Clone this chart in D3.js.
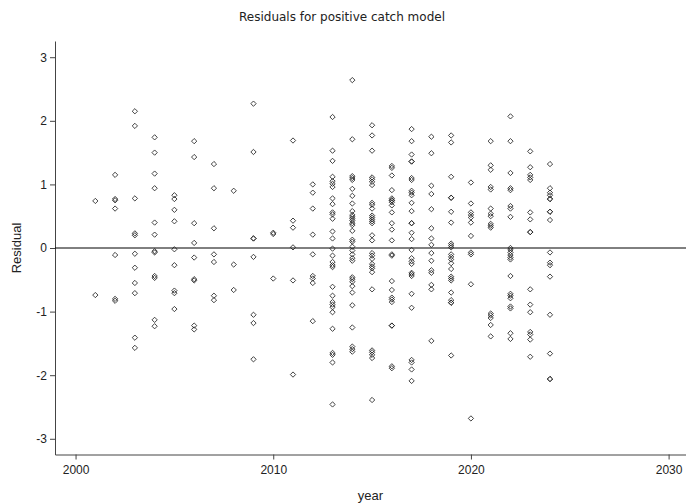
<!DOCTYPE html>
<html>
<head>
<meta charset="utf-8">
<script src="https://cdn.jsdelivr.net/npm/d3@7/dist/d3.min.js"></script>
<style>
  html, body { margin: 0; padding: 0; background: #fff; }
  svg text { font-family: "Liberation Sans", Arial, sans-serif; fill: #222; }
</style>
</head>
<body>
<svg id="chart" width="686" height="504"></svg>
<script>
// Survey years with at least one positive catch
const years = [2001, 2002, 2003, 2004, 2005, 2006, 2007, 2008, 2009, 2010, 2011, 2012,
               2013, 2014, 2015, 2016, 2017, 2018, 2019, 2020, 2021, 2022, 2023, 2024];

// Standardised residuals of the positive-catch model, one list per year (same order as years)
const residualsByYear = [
  [0.74, -0.74],
  [1.15, 0.77, 0.75, 0.62, -0.11, -0.8, -0.83],
  [2.15, 1.92, 0.78, 0.23, 0.2, -0.09, -0.31, -0.55, -0.71, -1.41, -1.57],
  [1.74, 1.5, 1.17, 0.94, 0.4, 0.21, -0.05, -0.07, -0.44, -0.47, -1.13, -1.23],
  [0.83, 0.77, 0.6, 0.42, -0.02, -0.27, -0.67, -0.71, -0.96],
  [1.68, 1.43, 0.39, 0.08, -0.15, -0.49, -0.51, -1.22, -1.28],
  [1.32, 0.94, 0.31, -0.1, -0.22, -0.75, -0.82],
  [0.9, -0.26, -0.66],
  [2.27, 1.51, 0.15, 0.15, -0.14, -1.05, -1.18, -1.75],
  [0.24, 0.22, -0.48],
  [1.69, 0.43, 0.32, 0.01, -0.51, -1.99],
  [1.0, 0.87, 0.62, 0.21, -0.1, -0.44, -0.48, -0.55, -1.15],
  [2.06, 1.53, 1.37, 1.12, 1.05, 1.01, 0.96, 0.78, 0.69, 0.56, 0.53, 0.46, 0.26, 0.15,
   -0.01, -0.12, -0.22, -0.27, -0.3, -0.61, -0.75, -0.85, -0.89, -0.93, -1.01, -1.27,
   -1.65, -1.68, -1.8, -2.46],
  [2.64, 1.71, 1.13, 1.1, 1.07, 0.93, 0.82, 0.7, 0.58, 0.52, 0.49, 0.46, 0.43, 0.39, 0.36,
   0.27, 0.13, 0.1, 0.02, -0.04, -0.1, -0.16, -0.2, -0.46, -0.49, -0.53, -0.6, -0.7, -0.9,
   -1.25, -1.55, -1.59, -1.63],
  [1.93, 1.77, 1.53, 1.11, 1.08, 1.04, 0.99, 0.71, 0.68, 0.62, 0.51, 0.48, 0.45, 0.42, 0.39,
   0.2, 0.12, -0.08, -0.12, -0.17, -0.25, -0.29, -0.32, -0.38, -0.65, -1.61, -1.64, -1.68,
   -1.73, -2.39],
  [1.29, 1.26, 1.14, 0.91, 0.78, 0.75, 0.75, 0.72, 0.67, 0.56, 0.39, 0.29, 0.12, -0.1, -0.12,
   -0.52, -0.66, -0.78, -0.81, -0.85, -1.22, -1.22, -1.86, -1.89],
  [1.87, 1.68, 1.47, 1.36, 1.36, 1.1, 1.07, 0.9, 0.87, 0.83, 0.71, 0.58, 0.39, 0.39, 0.24,
   0.14, -0.03, -0.16, -0.21, -0.25, -0.39, -0.41, -0.44, -0.72, -0.94, -1.76, -1.8, -1.91,
   -2.09],
  [1.75, 1.49, 0.98, 0.85, 0.61, 0.31, 0.15, 0.05, -0.08, -0.2, -0.35, -0.39, -0.58, -0.65,
   -1.46],
  [1.77, 1.66, 1.12, 0.79, 0.79, 0.57, 0.4, 0.07, 0.04, 0.01, -0.1, -0.14, -0.18, -0.24,
   -0.33, -0.45, -0.48, -0.51, -0.7, -0.82, -0.86, -0.86, -1.69],
  [1.03, 0.7, 0.56, 0.52, 0.48, 0.4, 0.19, -0.07, -0.1, -0.57, -2.68],
  [1.68, 1.3, 1.23, 0.96, 0.92, 0.62, 0.54, 0.5, 0.38, 0.35, 0.32, -1.03, -1.06, -1.1,
   -1.21, -1.39],
  [2.07, 1.68, 1.18, 0.94, 0.91, 0.66, 0.62, 0.49, 0.0, -0.03, -0.07, -0.11, -0.15, -0.18,
   -0.44, -0.72, -0.75, -0.79, -0.92, -0.95, -1.34, -1.43],
  [1.52, 1.27, 1.15, 1.11, 1.07, 0.56, 0.45, 0.25, 0.25, -0.65, -0.89, -1.01, -1.32, -1.36,
   -1.44, -1.71],
  [1.32, 0.94, 0.87, 0.83, 0.77, 0.77, 0.57, 0.57, 0.44, -0.07, -0.23, -0.27, -0.45, -1.05,
   -1.66, -2.06, -2.06]
];

const xTicks = [2000, 2010, 2020, 2030];
const yTicks = [-3, -2, -1, 0, 1, 2, 3];

const chartTitle = "Residuals for positive catch model";
const xTitle = "year";
const yTitle = "Residual";

// ---- layout ----
const plot = { left: 55, right: 686, top: 41, bottom: 454.5 };

const x = d3.scaleLinear().domain([1998.96, 2030.88]).range([plot.left, plot.right]);
const y = d3.scaleLinear().domain([-3.247, 3.255]).range([plot.bottom, plot.top]);

const svg = d3.select("#chart");

// flatten to (year, residual) pairs
const points = years.flatMap((yr, i) => residualsByYear[i].map(v => ({ year: yr, value: v })));

// plain hyphen for negative tick labels
const intLabel = d => String(d);

// axes
const xAxis = d3.axisBottom(x).tickValues(xTicks).tickFormat(intLabel)
  .tickSize(5).tickSizeOuter(0).tickPadding(6);
const yAxis = d3.axisLeft(y).tickValues(yTicks).tickFormat(intLabel)
  .tickSize(5).tickSizeOuter(0).tickPadding(3);

const gx = svg.append("g").attr("transform", `translate(0,${plot.bottom})`).call(xAxis);
const gy = svg.append("g").attr("transform", `translate(${plot.left},0)`).call(yAxis);

[gx, gy].forEach(g => {
  g.select(".domain").attr("stroke", "#444").attr("stroke-width", 1);
  g.selectAll(".tick line").attr("stroke", "#444");
  g.selectAll(".tick text").attr("font-size", 12).attr("fill", "#222")
    .style("font-family", "'Liberation Sans', Arial, sans-serif");
});

// reference line at zero
svg.append("line")
  .attr("x1", plot.left).attr("x2", plot.right)
  .attr("y1", y(0)).attr("y2", y(0))
  .attr("stroke", "#000").attr("stroke-width", 1);

// hollow diamond markers
const diamond = d3.symbol(d3.symbolSquare, 14)();
svg.append("g")
  .selectAll("path")
  .data(points)
  .join("path")
  .attr("d", diamond)
  .attr("transform", d => `translate(${x(d.year)},${y(d.value)}) rotate(45)`)
  .attr("fill", "none")
  .attr("stroke", "#222")
  .attr("stroke-width", 0.8);

// titles
svg.append("text")
  .attr("x", 342).attr("y", 21)
  .attr("text-anchor", "middle")
  .attr("font-size", 12)
  .style("font-family", "'DejaVu Sans', sans-serif")
  .text(chartTitle);

svg.append("text")
  .attr("x", (plot.left + plot.right) / 2).attr("y", 500)
  .attr("text-anchor", "middle")
  .attr("font-size", 13)
  .text(xTitle);

svg.append("text")
  .attr("transform", `translate(21,${y(0)}) rotate(-90)`)
  .attr("text-anchor", "middle")
  .attr("font-size", 13)
  .text(yTitle);
</script>
</body>
</html>
